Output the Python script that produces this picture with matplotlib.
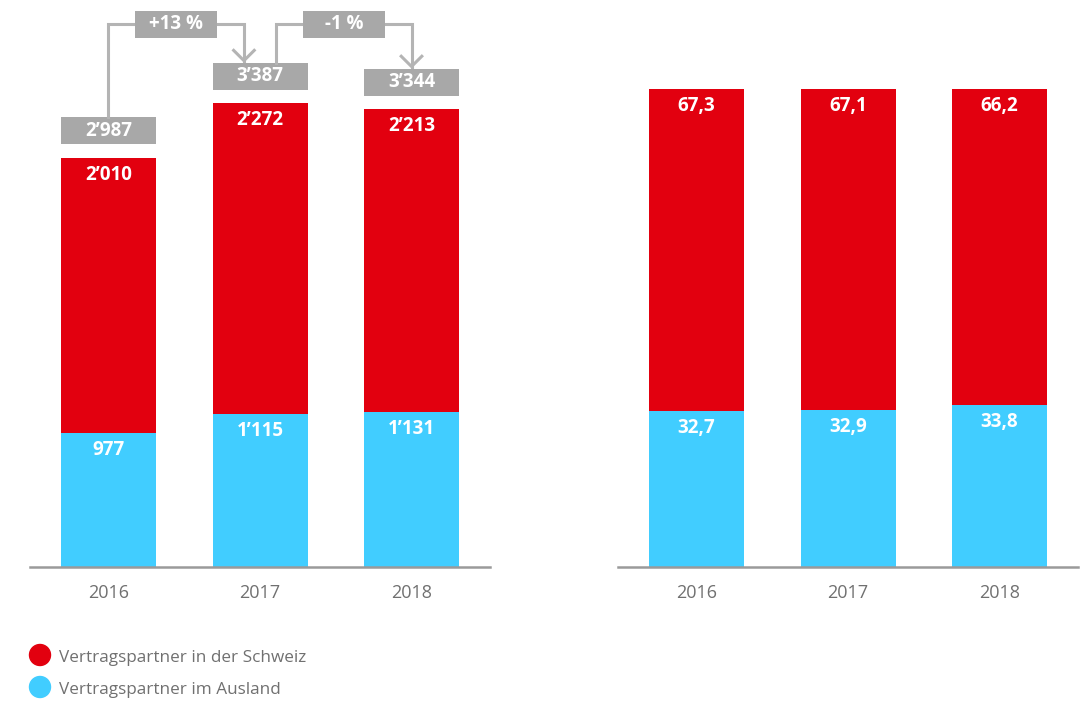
import matplotlib.pyplot as plt
import numpy as np
from matplotlib.patches import Rectangle, Circle

plt.rcParams['font.family'] = ['Open Sans', 'DejaVu Sans']

years = ["2016", "2017", "2018"]
schweiz = [2010, 2272, 2213]
ausland = [977, 1115, 1131]
totals = [2987, 3387, 3344]
changes = ["+13 %", "-1 %"]
schweiz_pct = [67.3, 67.1, 66.2]
ausland_pct = [32.7, 32.9, 33.8]
series = ["Vertragspartner in der Schweiz", "Vertragspartner im Ausland"]

RED = "#e2000f"
BLUE = "#41cdff"
GREY_BOX = "#a8a8a8"
GREY_LINE = "#b4b4b4"
TEXT = "#707070"
LABEL_SIZE = 13.5


def fmt_int(v):
    return f"{v:,}".replace(",", "\u2019")


def fmt_pct(v):
    return f"{v:.1f}".replace(".", ",")


fig = plt.figure(figsize=(10.84, 7.02), dpi=100)
ax1 = fig.add_axes([30 / 1084, 135 / 702, 460 / 1084, 567 / 702])
ax2 = fig.add_axes([618 / 1084, 135 / 702, 460 / 1084, 567 / 702])

x = np.arange(len(years))
w = 0.627

for ax in (ax1, ax2):
    ax.set_xlim(-0.518, 2.518)
    for s in ["top", "right", "left"]:
        ax.spines[s].set_visible(False)
    ax.spines["bottom"].set_color("#9a9a9a")
    ax.spines["bottom"].set_linewidth(1.8)
    ax.set_yticks([])
    ax.set_xticks(x)
    ax.set_xticklabels(years, fontsize=13, color=TEXT)
    ax.tick_params(axis="x", length=0, pad=12)

ax1.set_ylim(0, 4142)
ax2.set_ylim(0, 100 * 567 / 478)


def value_labels(ax, xs, tops, texts):
    for xi, t, s in zip(xs, tops, texts):
        ax.annotate(s, (xi, t), xytext=(0, -17), textcoords="offset pixels",
                    ha="center", va="center", color="white",
                    fontsize=LABEL_SIZE, fontweight="bold")


# absolute numbers
ax1.bar(x, ausland, w, color=BLUE)
ax1.bar(x, schweiz, w, bottom=ausland, color=RED)
value_labels(ax1, x, ausland, [fmt_int(v) for v in ausland])
value_labels(ax1, x, totals, [fmt_int(v) for v in schweiz])

# shares in percent
ax2.bar(x, ausland_pct, w, color=BLUE)
ax2.bar(x, schweiz_pct, w, bottom=ausland_pct, color=RED)
value_labels(ax2, x, ausland_pct, [fmt_pct(v) for v in ausland_pct])
value_labels(ax2, x, [a + b for a, b in zip(ausland_pct, schweiz_pct)],
             [fmt_pct(v) for v in schweiz_pct])

# total boxes above the bars
gap = 100
box_h = 197
box_tops = []
for xi, t in zip(x, totals):
    ax1.add_patch(Rectangle((xi - w / 2, t + gap), w, box_h, color=GREY_BOX,
                            clip_on=False, lw=0))
    ax1.text(xi, t + gap + box_h / 2, fmt_int(t), ha="center", va="center",
             color="white", fontsize=LABEL_SIZE, fontweight="bold")
    box_tops.append(t + gap + box_h)

# change arrows between the totals
level = 3966
shift = 0.106
chg_w = 0.541
for i, label in enumerate(changes):
    x0 = x[i] + (shift if i > 0 else 0)
    x1 = x[i + 1] - (shift if i + 1 < len(x) - 1 else 0)
    tip = box_tops[i + 1] + 15
    ax1.plot([x0, x0, x1, x1], [box_tops[i], level, level, tip],
             color=GREY_LINE, lw=2.2, clip_on=False, solid_joinstyle="miter",
             zorder=1)
    ax1.plot([x1 - 0.068, x1, x1 + 0.068], [tip + 75, tip, tip + 75],
             color=GREY_LINE, lw=2.2, clip_on=False, zorder=1)
    xm = (x0 + x1) / 2
    ax1.add_patch(Rectangle((xm - chg_w / 2, level - box_h / 2), chg_w, box_h,
                            color=GREY_BOX, clip_on=False, lw=0, zorder=2))
    ax1.text(xm, level, label, ha="center", va="center", color="white",
             fontsize=LABEL_SIZE, fontweight="bold", zorder=3)

# legend
for i, (name, col) in enumerate(zip(series, [RED, BLUE])):
    cy = (702 - 655 - 32 * i) / 100
    fig.add_artist(Circle((0.40, cy), 0.105, color=col,
                          transform=fig.dpi_scale_trans))
    fig.text(59 / 1084, (cy * 100 - 3) / 702, name, ha="left", va="center",
             fontsize=12.3, color=TEXT)

fig.savefig("out.png", dpi=100)
